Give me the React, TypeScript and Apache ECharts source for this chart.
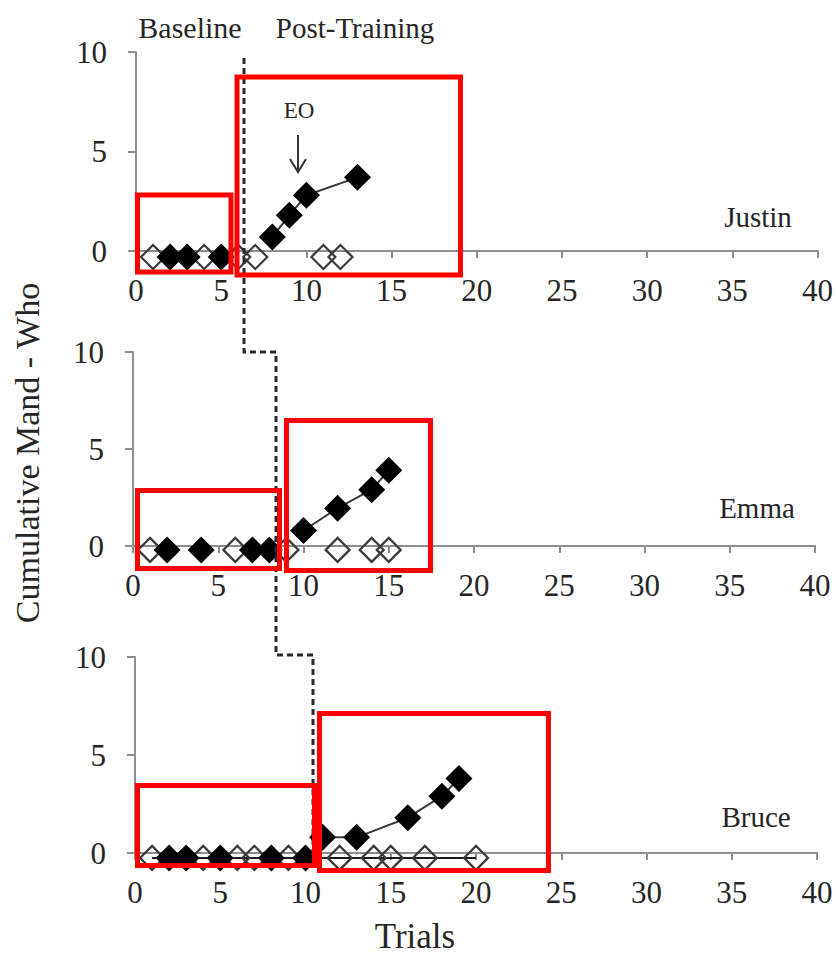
import React, { useEffect, useRef } from "react";
import * as echarts from "echarts";

// ---- data (trial, cumulative mand value as plotted) ----
const justinOpen = [[1, -0.3], [4, -0.3], [6, -0.3], [7, -0.3], [11, -0.3], [12, -0.3]];
const justinBaselineFilled = [[2, -0.3], [3, -0.3], [5, -0.3]];
const justinPostFilled = [[8, 0.7], [9, 1.8], [10, 2.8], [13, 3.7]];

const emmaOpen = [[1, -0.2], [6, -0.2], [9, -0.2], [12, -0.2], [14, -0.2], [15, -0.2]];
const emmaBaselineFilled = [[2, -0.2], [4, -0.2], [7, -0.2], [8, -0.2]];
const emmaPostFilled = [[10, 0.8], [12, 1.95], [14, 2.9], [15, 3.9]];

const bruceOpen = [[1, -0.25], [4, -0.25], [6, -0.25], [7, -0.25], [9, -0.25], [12, -0.25], [14, -0.25], [15, -0.25], [17, -0.25], [20, -0.25]];
const bruceBaselineFilled = [[2, -0.25], [3, -0.25], [5, -0.25], [8, -0.25], [10, -0.25]];
const brucePostFilled = [[11, 0.8], [13, 0.8], [16, 1.8], [18, 2.9], [19, 3.8]];

const participants = ["Justin", "Emma", "Bruce"];
const phaseLabels = ["Baseline", "Post-Training"];
const xRange = [0, 40, 5];
const yRange = [0, 10, 5];

const FONT = '"Liberation Serif", "Times New Roman", serif';
const TEXT = "#262626";
const AXIS = "#8e8e8e";

const grids = [
  { left: 136, top: 52, width: 683, height: 199 },
  { left: 133, top: 352, width: 682, height: 194 },
  { left: 135, top: 657, width: 682, height: 196 },
];

function makeX(i: number) {
  return {
    gridIndex: i,
    type: "value",
    min: xRange[0],
    max: xRange[1],
    interval: xRange[2],
    axisLine: { show: true, onZero: false, lineStyle: { color: AXIS, width: 2 } },
    axisTick: { show: true, length: 7, lineStyle: { color: AXIS, width: 2 } },
    axisLabel: { margin: 24, fontSize: 31, fontFamily: FONT, color: TEXT },
    splitLine: { show: false },
  };
}
function makeY(i: number) {
  return {
    gridIndex: i,
    type: "value",
    min: yRange[0],
    max: yRange[1],
    interval: yRange[2],
    axisLine: { show: true, lineStyle: { color: AXIS, width: 2 } },
    axisTick: { show: true, length: 8, lineStyle: { color: AXIS, width: 2 } },
    axisLabel: { margin: 29, fontSize: 31, fontFamily: FONT, color: TEXT },
    splitLine: { show: false },
  };
}

function openSeries(i: number, data: number[][], withLine: boolean) {
  return {
    type: "line",
    xAxisIndex: i,
    yAxisIndex: i,
    data,
    symbol: "diamond",
    symbolSize: 24,
    clip: false,
    z: 3,
    itemStyle: { color: "rgba(255,255,255,0)", borderColor: "#3a3a3a", borderWidth: 2.2 },
    lineStyle: withLine ? { color: "#1a1a1a", width: 2 } : { opacity: 0 },
  };
}
function filledSeries(i: number, data: number[][], withLine: boolean) {
  return {
    type: "line",
    xAxisIndex: i,
    yAxisIndex: i,
    data,
    symbol: "diamond",
    symbolSize: 27,
    clip: false,
    z: 4,
    itemStyle: { color: "#000000", borderColor: "#000000", borderWidth: 0 },
    lineStyle: withLine ? { color: "#3a3a3a", width: 2 } : { opacity: 0 },
  };
}

function txt(text: string, x: number, y: number, size: number, extra: any = {}) {
  return {
    type: "text",
    x,
    y,
    z: 50,
    ...extra,
    style: {
      text,
      fontSize: size,
      fontFamily: FONT,
      fill: TEXT,
      align: "center",
      verticalAlign: "middle",
      textAlign: "center",
      textVerticalAlign: "middle",
    },
  };
}

function box(x1: number, y1: number, x2: number, y2: number) {
  return {
    type: "rect",
    z: 100,
    shape: { x: x1, y: y1, width: x2 - x1, height: y2 - y1 },
    style: { fill: "none", stroke: "#ff0000", lineWidth: 5 },
  };
}

export default function App() {
  const ref = useRef<HTMLDivElement>(null);
  useEffect(() => {
    if (!ref.current) return;
    const chart = echarts.init(ref.current, null, { renderer: "svg" });
    chart.setOption({
      animation: false,
      backgroundColor: "#ffffff",
      grid: grids,
      xAxis: [0, 1, 2].map(makeX),
      yAxis: [0, 1, 2].map(makeY),
      series: [
        openSeries(0, justinOpen, false),
        filledSeries(0, justinBaselineFilled, false),
        filledSeries(0, justinPostFilled, true),
        openSeries(1, emmaOpen, false),
        filledSeries(1, emmaBaselineFilled, false),
        filledSeries(1, emmaPostFilled, true),
        openSeries(2, bruceOpen, true),
        filledSeries(2, bruceBaselineFilled, false),
        filledSeries(2, brucePostFilled, true),
      ],
      graphic: [
        txt(phaseLabels[0], 190, 27, 30),
        txt(phaseLabels[1], 355, 28, 29),
        txt(participants[0], 758, 217, 29),
        txt(participants[1], 757, 508, 29),
        txt(participants[2], 756, 817, 29),
        txt("EO", 299, 110, 23),
        {
          type: "line",
          z: 50,
          shape: { x1: 298, y1: 135, x2: 298, y2: 171 },
          style: { stroke: "#333", lineWidth: 2 },
        },
        {
          type: "polyline",
          z: 50,
          shape: { points: [[290, 159], [298, 172], [306, 159]] },
          style: { stroke: "#333", lineWidth: 2, fill: "none" },
        },
        txt("Cumulative Mand - Who", 27, 453, 34, { rotation: Math.PI / 2 }),
        txt("Trials", 415, 936, 35),
        {
          type: "polyline",
          z: 60,
          shape: {
            points: [[244, 58], [244, 352], [276, 352], [276, 655], [313, 655], [313, 863]],
          },
          style: { stroke: "#2a2a2a", lineWidth: 3, lineDash: [6, 4], fill: "none" },
        },
        box(137.5, 195, 231, 272),
        box(237, 77, 460.5, 275),
        box(137.5, 490.5, 279.5, 568.5),
        box(286.5, 420.5, 430.5, 570.5),
        box(137.5, 785.5, 314.5, 865.5),
        box(319.5, 713.5, 548.5, 870.5),
      ],
    });
    return () => chart.dispose();
  }, []);
  return (
    <div
      ref={ref}
      style={{ position: "absolute", left: 0, top: 0, width: 836, height: 958 }}
    />
  );
}
